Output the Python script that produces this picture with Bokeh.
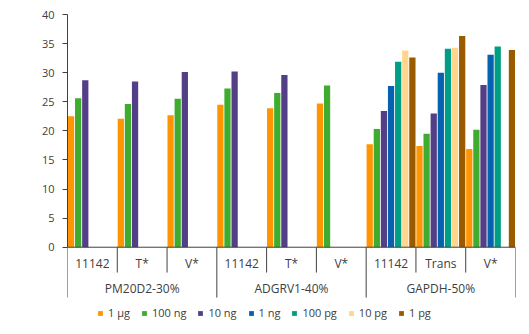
import math
from bokeh.plotting import figure
from bokeh.models import (FactorRange, Range1d, ColumnDataSource, Legend, LegendItem,
                          Label, FixedTicker)
from bokeh.transform import dodge
from bokeh.core.properties import value
from bokeh.embed import file_html
from bokeh.resources import INLINE

# ---------------- data ----------------
groups = ["PM20D2-30%", "ADGRV1-40%", "GAPDH-50%"]
subgroups = [["11142", "T*", "V*"], ["11142", "T*", "V*"], ["11142", "Trans", "V*"]]
series_names = ["1 µg", "100 ng", "10 ng", "1 ng", "100 pg", "10 pg", "1 pg"]
series_colors = ["#FF9500", "#3FAB2F", "#533F86", "#0761B1", "#009E84", "#FFD68C", "#9A5A00"]

s_1ug   = [22.5, 22.1, 22.7, 24.5, 23.9, 24.7, 17.7, 17.4, 16.9]
s_100ng = [25.6, 24.6, 25.5, 27.3, 26.5, 27.8, 20.3, 19.5, 20.2]
s_10ng  = [28.7, 28.5, 30.1, 30.2, 29.6, None, 23.4, 23.0, 27.9]
s_1ng   = [None, None, None, None, None, None, 27.7, 30.0, 33.1]
s_100pg = [None, None, None, None, None, None, 31.9, 34.1, 34.5]
s_10pg  = [None, None, None, None, None, None, 33.8, 34.3, None]
s_1pg   = [None, None, None, None, None, None, 32.6, 36.3, 33.9]
series_values = [s_1ug, s_100ng, s_10ng, s_1ng, s_100pg, s_10pg, s_1pg]

y_ticks = [0, 5, 10, 15, 20, 25, 30, 35, 40]
y_label_main = "C"
y_label_sub = "T"
y_label_tail = "值"

# ---------------- figure ----------------
factors = [(g, s) for g, subs in zip(groups, subgroups) for s in subs]
FONT = "Open Sans"
TXT = "#404040"

x_range = FactorRange(*factors, factor_padding=0, group_padding=0, range_padding=0)
p = figure(width=529, height=334, x_range=x_range, y_range=Range1d(-15.0, 40),
           x_axis_location=None, output_backend="svg", toolbar_location=None,
           min_border_left=67, min_border_right=14, min_border_top=14, min_border_bottom=0)
p.outline_line_color = None
p.grid.visible = False
p.background_fill_color = "white"

yax = p.yaxis[0]
yax.ticker = FixedTicker(ticks=y_ticks)
yax.bounds = (0, 40)
yax.minor_tick_line_color = None
yax.major_tick_in = 0
yax.major_tick_out = 5
yax.major_label_standoff = 8
yax.axis_line_color = TXT
yax.major_tick_line_color = TXT
yax.major_label_text_color = TXT
yax.major_label_text_font = FONT
yax.major_label_text_font_size = "11px"

n_series = len(series_names)
slot = 1.0 / n_series
items = []
for j, (name, vals, col) in enumerate(zip(series_names, series_values, series_colors)):
    xs = [f for f, v in zip(factors, vals) if v is not None]
    tops = [v for v in vals if v is not None]
    src = ColumnDataSource(dict(x=xs, top=tops))
    r = p.vbar(x=dodge("x", (j - (n_series - 1) / 2) * slot, range=p.x_range), top="top",
               width=slot * 0.88, bottom=0, source=src, fill_color=col, line_color=None)
    items.append(LegendItem(label=name, renderers=[r]))

# x axis baseline and separators
n_cat = len(factors)
p.segment(x0=[0], y0=[0], x1=[n_cat], y1=[0], line_color=TXT, line_width=1)
group_edges = [0]
for subs in subgroups:
    group_edges.append(group_edges[-1] + len(subs))
bx_long = group_edges
bx_short = [b for b in range(n_cat + 1) if b not in group_edges]
p.segment(x0=bx_short, y0=[0] * len(bx_short), x1=bx_short, y1=[-4.35] * len(bx_short),
          line_color=TXT, line_width=1)
p.segment(x0=bx_long, y0=[0] * len(bx_long), x1=bx_long, y1=[-8.65] * len(bx_long),
          line_color=TXT, line_width=1)

# category labels
sub_src = ColumnDataSource(dict(x=factors, y=[-2.85] * len(factors), t=[f[1] for f in factors]))
p.text(x="x", y="y", text="t", source=sub_src, text_align="center", text_baseline="middle",
       text_font=value(FONT), text_font_size="12px", text_color=TXT)
grp_src = ColumnDataSource(dict(x=groups, y=[-7.1] * len(groups), t=groups))
p.text(x="x", y="y", text="t", source=grp_src, text_align="center", text_baseline="middle",
       text_font=value(FONT), text_font_size="12px", text_color=TXT)

# y axis label  C_T值
p.add_layout(Label(x=-0.84, y=18.6, text=y_label_main, angle=math.pi / 2, text_align="center",
                   text_baseline="middle", text_font=FONT, text_font_size="12px", text_color=TXT))
p.add_layout(Label(x=-0.78, y=19.95, text=y_label_sub, angle=math.pi / 2, text_align="center",
                   text_baseline="middle", text_font=FONT, text_font_size="8px", text_color=TXT))
p.add_layout(Label(x=-0.84, y=21.6, text=y_label_tail, angle=math.pi / 2, text_align="center",
                   text_baseline="middle", text_font="Noto Sans CJK SC", text_font_size="12px",
                   text_color=TXT))

legend = Legend(items=items, orientation="horizontal", location=(30, 14),
                glyph_width=6, glyph_height=6, label_standoff=5, spacing=11,
                padding=0, margin=0, border_line_color=None, background_fill_alpha=0,
                label_text_font=FONT, label_text_font_size="11px", label_text_color=TXT,
                label_height=12)
p.add_layout(legend)

open("out.html", "w").write(file_html(p, INLINE))
